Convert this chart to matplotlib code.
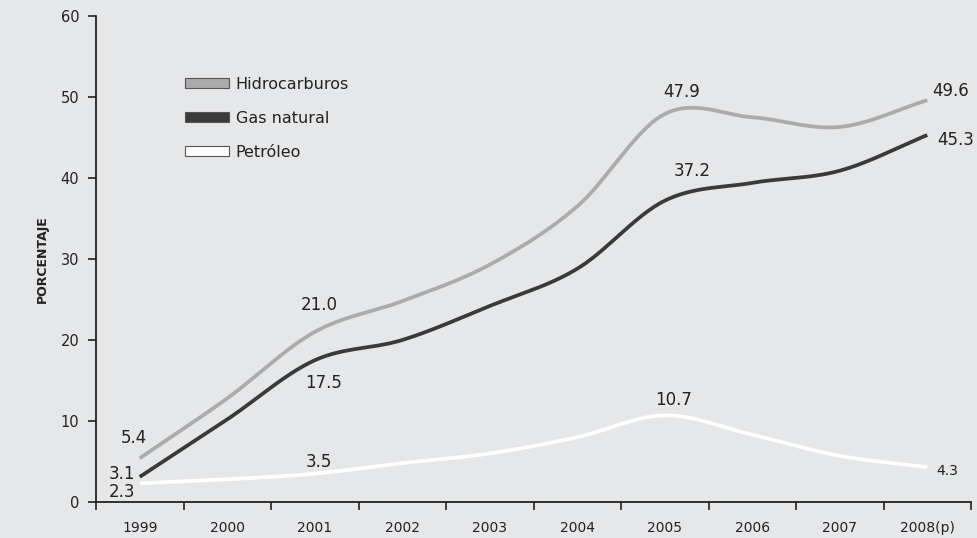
import matplotlib
matplotlib.use("Agg")
import matplotlib.pyplot as plt
from matplotlib.patches import Patch
import numpy as np

years = ["1999", "2000", "2001", "2002", "2003", "2004", "2005", "2006", "2007", "2008(p)"]
hidrocarburos = [5.4, 12.8, 21.0, 24.8, 29.3, 36.5, 47.9, 47.5, 46.3, 49.6]
gas_natural = [3.1, 10.2, 17.5, 20.0, 24.2, 28.8, 37.2, 39.4, 40.9, 45.3]
petroleo = [2.3, 2.8, 3.5, 4.8, 6.0, 8.0, 10.7, 8.3, 5.7, 4.3]

BG = "#e6e7e9"


def smooth(x, y, n=30):
    # Catmull-Rom style smoothing like the office chart "smoothed line"
    x = np.asarray(x, float)
    y = np.asarray(y, float)
    px = np.concatenate([[2 * x[0] - x[1]], x, [2 * x[-1] - x[-2]]])
    py = np.concatenate([[2 * y[0] - y[1]], y, [2 * y[-1] - y[-2]]])
    xs, ys = [], []
    for i in range(1, len(px) - 2):
        t = np.linspace(0, 1, n, endpoint=(i == len(px) - 3))
        for arr, out in ((px, xs), (py, ys)):
            p0, p1, p2, p3 = arr[i - 1], arr[i], arr[i + 1], arr[i + 2]
            out.extend(0.5 * (2 * p1 + (-p0 + p2) * t + (2 * p0 - 5 * p1 + 4 * p2 - p3) * t ** 2
                              + (-p0 + 3 * p1 - 3 * p2 + p3) * t ** 3))
    return np.array(xs), np.array(ys)


fig = plt.figure(figsize=(9.77, 5.38), dpi=100, facecolor=BG)
ax = fig.add_axes([96 / 977, 1 - 502 / 538, 875 / 977, 486 / 538], facecolor=BG)

x = np.arange(len(years))
series = [
    (hidrocarburos, "#ababab", "Hidrocarburos"),
    (gas_natural, "#3a3a3a", "Gas natural"),
    (petroleo, "#ffffff", "Petróleo"),
]
for vals, col, name in series:
    sx, sy = smooth(x, vals)
    ax.plot(sx, sy, color=col, lw=2.7, solid_capstyle="butt", zorder=3)

ax.set_xlim(-0.5, len(years) - 0.5)
ax.set_ylim(0, 60)
ax.set_yticks(range(0, 61, 10))
ax.set_xticks(np.arange(-0.5, len(years), 1.0))
ax.set_xticklabels([])
ax.set_xticks(x, minor=True)
ax.set_xticklabels(years, minor=True)
ax.tick_params(axis="x", which="minor", length=0, pad=14, labelsize=10, colors="#222222")
ax.tick_params(axis="x", which="major", length=6, width=1.2, direction="out", color="#222222")
ax.tick_params(axis="y", length=6, width=1.2, direction="out", labelsize=10.5, colors="#222222", pad=6)
for s in ["top", "right"]:
    ax.spines[s].set_visible(False)
for s in ["left", "bottom"]:
    ax.spines[s].set_linewidth(1.3)
    ax.spines[s].set_color("#222222")

ax.set_ylabel("PORCENTAJE", fontsize=9, fontweight="bold", color="#222222", labelpad=8.5)

# value labels
tc = "#222222"
ax.text(-0.07, 7.9, "5.4", ha="center", va="center", fontsize=12, color=tc)
ax.text(-0.05, 3.4, "3.1", ha="right", va="center", fontsize=12, color=tc)
ax.text(-0.05, 1.2, "2.3", ha="right", va="center", fontsize=12, color=tc)
ax.text(2.05, 24.3, "21.0", ha="center", va="center", fontsize=12, color=tc)
ax.text(2.1, 14.7, "17.5", ha="center", va="center", fontsize=12, color=tc)
ax.text(2.05, 4.9, "3.5", ha="center", va="center", fontsize=12, color=tc)
ax.text(6.19, 50.6, "47.9", ha="center", va="center", fontsize=12, color=tc)
ax.text(6.31, 40.9, "37.2", ha="center", va="center", fontsize=12, color=tc)
ax.text(6.1, 12.6, "10.7", ha="center", va="center", fontsize=12, color=tc)
ax.text(9.06, 50.7, "49.6", ha="left", va="center", fontsize=12, color=tc)
ax.text(9.12, 44.7, "45.3", ha="left", va="center", fontsize=12, color=tc)
ax.text(9.1, 3.8, "4.3", ha="left", va="center", fontsize=10, color=tc)

handles = [Patch(facecolor=col, edgecolor="#555555", linewidth=0.8, label=name)
           for _, col, name in series]
leg = ax.legend(handles=handles, loc="upper left", bbox_to_anchor=(0.085, 0.905),
                frameon=False, fontsize=11.5, handlelength=2.75, handleheight=0.55,
                labelspacing=1.2, handletextpad=0.45, labelcolor="#222222")

fig.savefig("out.png", dpi=100, facecolor=BG)
